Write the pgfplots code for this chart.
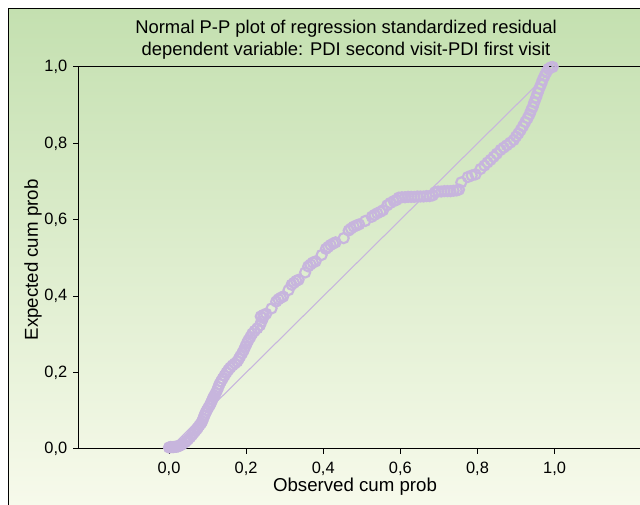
\documentclass[border=0pt]{standalone}
\usepackage{fontspec}
\setmainfont{Liberation Sans}
\usepackage{pgfplots}
\pgfplotsset{compat=1.18}
\definecolor{lav}{RGB}{199,181,221}
\definecolor{bgtop}{RGB}{196,224,176}
\definecolor{bgbot}{RGB}{247,250,235}
\begin{document}
\begin{tikzpicture}
\useasboundingbox (0,0) rectangle (480pt,378.75pt);
\clip (0,0) rectangle (480pt,378.75pt);
\shade[top color=bgtop, bottom color=bgbot] (6pt,0pt) rectangle (482pt,372pt);
\draw[black, line width=0.75pt] (6pt,-10pt) -- (6pt,372pt) -- (490pt,372pt);
\begin{axis}[
  at={(58.5pt,42pt)}, anchor=south west, scale only axis,
  width=426pt, height=286.5pt,
  xmin=-0.236, xmax=1.237, ymin=0, ymax=1,
  xtick={0,0.2,0.4,0.6,0.8,1}, ytick={0,0.2,0.4,0.6,0.8,1},
  tick pos=left, tick align=outside, major tick length=3.75pt,
  tick style={black, line width=0.75pt},
  axis line style={black, line width=0.75pt},
  ticklabel style={font=\fontsize{12.3}{14}\selectfont},
  xticklabel style={yshift=-2.5pt},
  yticklabel style={xshift=-0.75pt},
  /pgf/number format/.cd, fixed, fixed zerofill, precision=1, use comma, assume math mode=true,
]
\addplot[lav, line width=0.8pt, no markers] coordinates {(0,0) (1,1)};
\addplot[only marks, mark=o, mark size=3.8pt, lav, mark options={line width=1.6pt, draw=lav}] coordinates {
(0.000,0.004)(0.004,0.005)(0.008,0.005)(0.012,0.005)(0.016,0.006)(0.020,0.006)(0.024,0.007)(0.028,0.009)
(0.032,0.011)(0.036,0.014)(0.042,0.018)(0.046,0.022)(0.050,0.026)(0.055,0.031)(0.060,0.037)(0.064,0.042)
(0.068,0.047)(0.072,0.052)(0.075,0.056)(0.079,0.062)(0.083,0.067)(0.086,0.072)(0.089,0.080)(0.092,0.088)
(0.095,0.095)(0.098,0.101)(0.102,0.108)(0.106,0.115)(0.109,0.121)(0.112,0.128)(0.115,0.135)(0.118,0.140)
(0.121,0.146)(0.125,0.154)(0.128,0.162)(0.131,0.170)(0.135,0.177)(0.139,0.184)(0.144,0.192)(0.149,0.200)
(0.154,0.207)(0.159,0.213)(0.165,0.219)(0.171,0.224)(0.177,0.229)(0.181,0.236)(0.185,0.243)(0.190,0.251)
(0.194,0.259)(0.198,0.268)(0.202,0.277)(0.206,0.285)(0.211,0.293)(0.216,0.302)(0.222,0.309)(0.229,0.316)
(0.236,0.324)(0.240,0.334)(0.244,0.343)
(0.238,0.347)(0.245,0.351)(0.252,0.354)
(0.266,0.368)
(0.278,0.386)(0.284,0.392)(0.290,0.396)(0.296,0.399)
(0.310,0.416)
(0.318,0.430)(0.324,0.435)(0.330,0.440)(0.336,0.443)
(0.353,0.462)
(0.361,0.478)(0.367,0.483)(0.373,0.488)(0.380,0.491)
(0.396,0.508)
(0.407,0.524)(0.413,0.529)(0.419,0.534)(0.426,0.538)(0.432,0.541)
(0.453,0.552)
(0.466,0.572)(0.472,0.577)(0.479,0.582)(0.486,0.585)(0.493,0.588)
(0.509,0.597)
(0.526,0.608)(0.533,0.613)(0.540,0.617)(0.548,0.621)(0.555,0.625)
(0.566,0.638)(0.574,0.644)(0.583,0.649)(0.590,0.652)
(0.596,0.658)(0.604,0.659)(0.612,0.659)(0.620,0.660)(0.628,0.660)(0.636,0.660)(0.644,0.661)(0.652,0.661)
(0.660,0.661)(0.668,0.662)(0.676,0.662)(0.684,0.664)
(0.690,0.672)(0.698,0.674)(0.706,0.674)(0.714,0.675)(0.722,0.675)(0.730,0.675)(0.738,0.676)(0.746,0.677)(0.752,0.679)
(0.758,0.698)
(0.775,0.712)(0.785,0.716)(0.795,0.719)
(0.808,0.733)
(0.818,0.742)(0.826,0.750)(0.834,0.757)(0.842,0.765)(0.850,0.773)(0.860,0.783)(0.868,0.789)(0.876,0.795)
(0.885,0.802)(0.894,0.809)(0.900,0.818)(0.906,0.826)(0.912,0.835)(0.918,0.845)(0.924,0.856)(0.930,0.866)
(0.935,0.876)(0.939,0.886)(0.943,0.895)(0.947,0.907)(0.952,0.920)(0.956,0.932)(0.960,0.943)(0.965,0.955)
(0.969,0.966)(0.974,0.977)(0.979,0.987)(0.984,0.995)(0.990,0.999)(0.995,1.000)
};
\end{axis}
\node[align=center, font=\fontsize{13.8}{16.5}\selectfont] at (259.5pt,349pt)
  {Normal P-P plot of regression standardized residual\\dependent variable: PDI second visit-PDI first visit};
\node[font=\fontsize{14}{16}\selectfont] at (266.25pt,13.5pt) {Observed cum prob};
\node[rotate=90, font=\fontsize{14}{16}\selectfont] at (24.75pt,183.75pt) {Expected cum prob};
\end{tikzpicture}
\end{document}
